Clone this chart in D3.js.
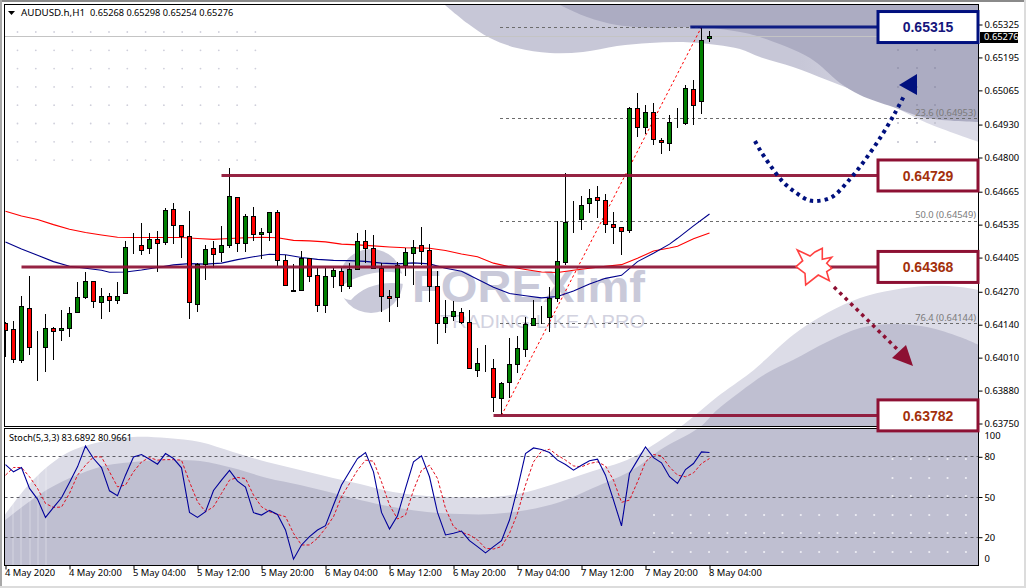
<!DOCTYPE html>
<html><head><meta charset="utf-8">
<script src="https://cdn.jsdelivr.net/npm/d3@7/dist/d3.min.js"></script>
<style>
html,body{margin:0;padding:0;background:#fff;overflow:hidden}
svg{display:block}
text{font-family:"Noto Sans",sans-serif}
</style></head><body>
<div id="chart"></div>
<script>
const opens=[0.64143,0.64122,0.64000,0.64205,0.64054,0.64051,0.64126,0.64118,0.64126,0.64189,
0.64248,0.64312,0.64229,0.64251,0.64237,0.64264,0.64446,0.64454,0.64441,0.64477,
0.64466,0.64596,0.64533,0.64489,0.64221,0.64379,0.64442,0.64426,0.64454,0.64643,
0.64462,0.64568,0.64497,0.64505,0.64584,0.64394,0.64276,0.64276,0.64402,0.64335,
0.64217,0.64331,0.64351,0.64292,0.64359,0.64469,0.64442,0.64363,0.64252,0.64248,
0.64375,0.64422,0.64454,0.64434,0.64292,0.64146,0.64173,0.64189,0.64150,0.63960,
0.63962,0.63968,0.63850,0.63913,0.63984,0.64043,0.64138,0.64175,0.64169,0.64244,
0.64387,0.64551,0.64556,0.64619,0.64643,0.64631,0.64537,0.64525,0.64513,0.64992,
0.64919,0.64979,0.64868,0.64856,0.64936,0.64935,0.65069,0.65022,0.65268];
const closes=[0.64118,0.64004,0.64213,0.64051,0.64054,0.64126,0.64114,0.64126,0.64185,0.64248,
0.64312,0.64233,0.64251,0.64237,0.64252,0.64446,0.64446,0.64434,0.64477,0.64462,
0.64592,0.64531,0.64488,0.64229,0.64376,0.64438,0.64418,0.64454,0.64647,0.64462,
0.64568,0.64497,0.64505,0.64584,0.64394,0.64296,0.64271,0.64402,0.64331,0.64217,
0.64331,0.64355,0.64296,0.64359,0.64469,0.64442,0.64363,0.64252,0.64244,0.64375,
0.64426,0.64446,0.64430,0.64292,0.64146,0.64169,0.64193,0.64150,0.63968,0.63988,
0.63962,0.63854,0.63909,0.63984,0.64047,0.64142,0.64166,0.64175,0.64244,0.64391,
0.64544,0.64551,0.64612,0.64639,0.64631,0.64537,0.64525,0.64509,0.64992,0.64919,
0.64979,0.64872,0.64860,0.64939,0.64936,0.65073,0.65006,0.65263,0.65276];
const highs=[0.64152,0.64154,0.64254,0.64333,0.64114,0.64183,0.64130,0.64197,0.64209,0.64309,
0.64348,0.64312,0.64284,0.64264,0.64309,0.64469,0.64501,0.64541,0.64501,0.64510,
0.64601,0.64621,0.64533,0.64589,0.64383,0.64454,0.64471,0.64530,0.64758,0.64643,
0.64576,0.64604,0.64521,0.64584,0.64592,0.64414,0.64379,0.64430,0.64402,0.64363,
0.64363,0.64363,0.64363,0.64383,0.64501,0.64514,0.64493,0.64383,0.64276,0.64387,
0.64442,0.64473,0.64525,0.64458,0.64351,0.64237,0.64233,0.64205,0.64197,0.64047,
0.64059,0.64004,0.63913,0.64087,0.64094,0.64169,0.64237,0.64213,0.64288,0.64551,
0.64738,0.64629,0.64647,0.64675,0.64687,0.64655,0.64584,0.64525,0.65001,0.65055,
0.65007,0.65015,0.64877,0.64968,0.64996,0.65086,0.65106,0.65310,0.65298];
const lows=[0.64012,0.63988,0.63988,0.64022,0.63916,0.63955,0.64001,0.64077,0.64093,0.64189,
0.64242,0.64204,0.64164,0.64192,0.64223,0.64264,0.64421,0.64417,0.64421,0.64350,
0.64456,0.64460,0.64405,0.64164,0.64192,0.64318,0.64362,0.64387,0.64444,0.64425,
0.64425,0.64472,0.64401,0.64472,0.64371,0.64291,0.64268,0.64276,0.64310,0.64192,
0.64188,0.64283,0.64271,0.64280,0.64355,0.64383,0.64359,0.64192,0.64152,0.64208,
0.64334,0.64298,0.64375,0.64231,0.64062,0.64109,0.64156,0.64142,0.63968,0.63935,
0.63952,0.63797,0.63784,0.63850,0.63951,0.64014,0.64138,0.64142,0.64113,0.64229,
0.64376,0.64501,0.64512,0.64580,0.64560,0.64501,0.64460,0.64414,0.64501,0.64879,
0.64892,0.64850,0.64814,0.64826,0.64917,0.64929,0.64929,0.64972,0.65254];

const blueMaBars=[0,2,4,6,8,10,12,13,15,17,19,21,23,25,27,29,31,33,35,37,39,41,43,45,47,49,51,53,55,57,59,61,63,65,67,69,71,73,75,77,79,81,83,84,86,88];
const blueMaValues=[0.64466,0.64439,0.64414,0.64389,0.64371,0.64363,0.64355,0.64347,0.64348,0.64356,0.64366,0.64376,0.64381,0.64379,0.64383,0.64397,0.64408,0.64418,0.64416,0.64405,0.64398,0.64394,0.64393,0.64390,0.64383,0.64380,0.64384,0.64380,0.64363,0.64351,0.64319,0.64288,0.64263,0.64254,0.64246,0.64251,0.64273,0.64301,0.64323,0.64335,0.64389,0.64422,0.64458,0.64481,0.64530,0.64577];
const redMaBars=[0,2,4,6,8,10,12,14,16,18,20,22,24,26,28,30,32,34,36,38,40,42,44,46,48,50,52,53,55,57,59,61,63,65,67,69,71,73,75,77,79,81,83,84,86,88];
const redMaValues=[0.64588,0.64569,0.64555,0.64535,0.64517,0.64504,0.64494,0.64485,0.64484,0.64484,0.64484,0.64484,0.64480,0.64477,0.64480,0.64483,0.64485,0.64483,0.64473,0.64471,0.64467,0.64458,0.64455,0.64451,0.64447,0.64444,0.64443,0.64442,0.64433,0.64419,0.64408,0.64383,0.64369,0.64358,0.64348,0.64346,0.64355,0.64363,0.64371,0.64377,0.64402,0.64431,0.64443,0.64450,0.64479,0.64502];

const stochMain=[74.2,68.8,72.0,56.4,48.4,34.8,42.2,49.4,60.8,72.5,88.1,78.7,72.0,54.6,50.9,66.3,79.9,81.7,78.2,74.5,82.4,78.7,71.8,38.5,34.8,39.0,54.9,62.6,69.8,61.8,57.4,38.3,36.5,40.0,37.0,25.4,3.6,14.2,20.4,25.4,28.6,44.0,58.9,68.8,78.7,
83.2,68.8,38.5,26.1,36.0,56.4,76.2,80.7,65.1,38.5,21.7,22.9,24.6,17.4,13.0,8.3,13.0,17.4,32.8,56.4,82.4,86.6,85.4,83.2,77.5,74.2,70.0,73.7,77.0,78.2,66.3,47.7,28.4,67.5,77.5,87.4,79.4,75.5,65.1,60.1,70.5,75.0,83.7,83.2];
const stochSignal=[66.3,72.0,72.0,65.1,56.4,45.2,42.2,42.5,52.7,66.3,73.7,79.9,79.9,68.8,57.6,58.9,68.8,76.2,79.4,77.5,77.9,77.9,77.5,61.3,46.5,39.0,42.7,52.7,62.6,64.6,63.8,51.4,42.7,39.0,37.0,35.3,22.9,14.2,14.2,19.2,26.6,35.3,50.2,60.1,70.0,
77.5,76.7,61.3,44.0,33.6,36.5,55.1,70.0,73.7,63.8,41.5,27.9,23.6,21.7,18.0,11.7,11.2,13.0,22.9,37.8,58.9,76.2,84.2,85.6,81.2,77.5,73.2,72.5,75.0,76.2,73.2,62.6,46.0,47.7,61.3,76.2,81.7,80.7,72.5,66.3,65.1,68.0,75.0,78.7];

const priceTicks=[0.65325,0.65195,0.65065,0.64930,0.64800,0.64665,0.64535,0.64405,0.64270,0.64140,0.64010,0.63880,0.63750];
const stochTicks=[80,50,20];
const timeTickBars=[0,8,16,24,32,40,48,56,64,72,80,88];
const timeTickLabels=["4 May 2020","4 May 20:00","5 May 04:00","5 May 12:00","5 May 20:00","6 May 04:00","6 May 12:00","6 May 20:00","7 May 04:00","7 May 12:00","7 May 20:00","8 May 04:00"];
const fiboLevels=[0.65315,0.64953,0.64549,0.64144];
const fiboLabels=["","23.6 (0.64953)","50.0 (0.64549)","76.4 (0.64144)"];
const keyLevels=[0.65315,0.64729,0.64368,0.63782];
const keyStartBars=[85.6,27,2,61];
const keyLabels=["0.65315","0.64729","0.64368","0.63782"];
const keyColors=["#00107e","#8d1033","#8d1033","#8d1033"];
const keyTextColors=["#15157c","#a3300c","#a3300c","#a3300c"];
const bidPrice=0.65276;
const trendBars=[62,87], trendPrices=[0.63782,0.65315];

const W=1026,H=588,L=4.5,R=978.5,T=4.5,MB=426.5,ST=428.5,SB=565.5;
const svg=d3.select("#chart").append("svg").attr("width",W).attr("height",H);
const x=d3.scaleLinear().domain([0,88]).range([5.5,709.5]);
const y=d3.scaleLinear().domain([0.6375,0.65325]).range([423.5,24.5]);
const yS=d3.scaleLinear().domain([0,100]).range([564,430]);
const crisp=v=>Math.round(v-0.5)+0.5;

const defs=svg.append("defs");
defs.append("clipPath").attr("id","cm").append("rect").attr("x",L).attr("y",T).attr("width",R-L).attr("height",MB-T);
defs.append("clipPath").attr("id","cs").append("rect").attr("x",L).attr("y",ST).attr("width",R-L).attr("height",SB-ST);
const grad=defs.append("linearGradient").attr("id","tl").attr("gradientUnits","userSpaceOnUse")
  .attr("x1",800).attr("x2",920).attr("y1",0).attr("y2",0);
grad.append("stop").attr("offset",0).attr("stop-color","#c7c7d7");
grad.append("stop").attr("offset",1).attr("stop-color","#dadae6");

// window chrome
svg.append("rect").attr("x",0).attr("y",0).attr("width",W).attr("height",2).attr("fill","#8a8a8a");
svg.append("rect").attr("x",0).attr("y",0).attr("width",2).attr("height",H).attr("fill","#a8a8a8");
svg.append("rect").attr("x",0).attr("y",586).attr("width",W).attr("height",2).attr("fill","#dcdcdc");
svg.append("rect").attr("x",1024).attr("y",0).attr("width",2).attr("height",H).attr("fill","#dcdcdc");

// background artwork
const art=d3.line().curve(d3.curveCatmullRom.alpha(0.5));
const topLight=[[445,5],[467,23],[490,38],[517,48],[550,53],[583,52],[617,46],[650,43],[683,42],[717,45],[740,49],[760,57],[793,67],[827,80],[860,93],[890,105],[927,123],[979,142]];
const topDark=[[560,5],[587,17],[617,25],[660,28],[700,27],[740,32],[760,37],[810,58],[840,83],[860,95],[893,107],[927,118],[979,122]];
const botLight=[[4,516],[33,480],[67,453],[100,442],[133,437],[167,438],[200,442],[233,452],[267,462],[300,470],[333,478],[360,484],[393,492],[427,496],[460,497],[493,497],[527,492],[560,482],[593,471],[627,460],[650,447],[680,427],[693,417],[717,397],[750,373],[765,360],[793,335],[827,313],[860,298],[893,290],[927,286],[960,287],[979,290]];
const botDark=[[4,521],[50,488],[100,467],[133,462],[167,460],[200,461],[233,468],[267,478],[300,485],[333,493],[360,500],[393,507],[427,512],[460,514],[493,514],[527,510],[560,502],[593,488],[627,473],[643,463],[660,450],[700,427],[717,410],[740,392],[767,373],[793,360],[827,342],[860,328],[893,324],[927,327],[960,337],[979,345]];
function artLayer(parent){
  const closeTop=p=>art(p)+"L979,4L445,4Z";
  const closeBot=p=>art(p)+"L979,566L4,566Z";
  parent.append("path").attr("d",closeTop(topLight)).attr("fill","url(#tl)");
  parent.append("path").attr("d",closeTop(topDark)).attr("fill","#acacc2");
  parent.append("path").attr("d",closeBot(botLight)).attr("fill","#dcdce7");
  parent.append("path").attr("d",closeBot(botDark)).attr("fill","#bfbfd1");
}
const gm=svg.append("g").attr("clip-path","url(#cm)");
const gs=svg.append("g").attr("clip-path","url(#cs)");
artLayer(gm); artLayer(gs);

// dot patterns
const dotsTL=d3.cross(d3.range(14),d3.range(8));
gm.append("g").selectAll("circle").data(dotsTL).join("circle")
  .attr("cx",d=>17.5+d[0]*18.3).attr("cy",d=>32+d[1]*18.3).attr("r",0.9).attr("fill","#cfcfdb");
const dotsTR=d3.cross([898,917,935],[50,68,87,105,123,142]);
gm.append("g").selectAll("circle").data(dotsTR).join("circle")
  .attr("cx",d=>d[0]).attr("cy",d=>d[1]).attr("r",1).attr("fill",d=>d[1]<110?"#9494ac":"#c0c0ce");
const dotsBR=d3.cross(d3.range(18),[515,533,552]).map(d=>[654+d[0]*18.35,d[1]])
  .concat(d3.cross(d3.range(5),[459,478,496]).map(d=>[892.5+d[0]*18.35,d[1]]));
gs.append("g").selectAll("circle").data(dotsBR).join("circle")
  .attr("cx",d=>d[0]).attr("cy",d=>d[1]).attr("r",1.1).attr("fill","#eeeef4");
gs.append("g").selectAll("line").data([13,21,30,38,46]).join("line")
  .attr("x1",d=>d).attr("x2",d=>d).attr("y1",457).attr("y2",565).attr("stroke","#fff").attr("stroke-opacity",0.35);

// watermark
const wm=gm.append("g");
wm.append("circle").attr("cx",371).attr("cy",281).attr("r",32).attr("fill","#c9c9d9");
wm.append("path").attr("d","M336,290C352,276 380,268 404,274L404,284C382,280 362,287 351,300C345,300 340,296 336,290Z").attr("fill","#fff");
wm.append("text").attr("x",412).attr("y",302).attr("font-size",44).attr("font-weight",700)
  .attr("textLength",233).attr("lengthAdjust","spacingAndGlyphs")
  .style("font-family","'Liberation Sans',sans-serif").attr("fill","#c9c9d9").text("FOREXimf");
wm.append("text").attr("x",440).attr("y",327.5).attr("font-size",17.8)
  .attr("textLength",205).attr("lengthAdjust","spacingAndGlyphs")
  .style("font-family","'Liberation Sans',sans-serif").attr("fill","#d2d2df").text("TRADING LIKE A PRO");

// bid line
gm.append("line").attr("x1",L).attr("x2",R).attr("y1",crisp(y(bidPrice))).attr("y2",crisp(y(bidPrice))).attr("stroke","#c4c4c4");

// fibonacci
gm.append("g").selectAll("line").data(fiboLevels).join("line")
  .attr("x1",500).attr("x2",(d,i)=>i?R:700).attr("y1",d=>crisp(y(d))).attr("y2",d=>crisp(y(d)))
  .attr("stroke","#6c6c6c").attr("stroke-dasharray","3 3");
gm.append("g").selectAll("text").data(fiboLevels).join("text")
  .attr("x",976).attr("y",d=>y(d)-3).attr("text-anchor","end").attr("font-size",9.3)
  .attr("fill","#7a7a7a").text((d,i)=>fiboLabels[i]);
gm.append("line").attr("x1",x(trendBars[0])).attr("x2",x(trendBars[1]))
  .attr("y1",y(trendPrices[0])).attr("y2",y(trendPrices[1]))
  .attr("stroke","#f00").attr("stroke-width",1).attr("stroke-dasharray","2.5 2.5");

// moving averages
const maLine=d3.line().x(d=>x(d[0])).y(d=>y(d[1]));
gm.append("path").attr("d",maLine(d3.zip(redMaBars,redMaValues))).attr("fill","none").attr("stroke","#f00").attr("stroke-width",1.1);
gm.append("path").attr("d",maLine(d3.zip(blueMaBars,blueMaValues))).attr("fill","none").attr("stroke","#00008b").attr("stroke-width",1.1);

// candles
const candles=opens.map((o,i)=>({i,o,c:closes[i],h:highs[i],l:lows[i]}));
const cg=gm.append("g");
cg.selectAll("line").data(candles).join("line")
  .attr("x1",d=>x(d.i)).attr("x2",d=>x(d.i)).attr("y1",d=>Math.round(y(d.h))).attr("y2",d=>Math.round(y(d.l)))
  .attr("stroke","#000");
cg.selectAll("rect").data(candles).join("rect")
  .attr("x",d=>x(d.i)-2).attr("width",4)
  .attr("y",d=>crisp(y(Math.max(d.o,d.c))))
  .attr("height",d=>crisp(y(Math.min(d.o,d.c)))-crisp(y(Math.max(d.o,d.c))))
  .attr("fill",d=>d.c>d.o?"#007f00":d.c<d.o?"#f00":"#000").attr("stroke","#000");

// stochastic
const sLine=d3.line().x((d,i)=>x(i)).y(d=>yS(d));
gs.append("g").selectAll("line").data(stochTicks).join("line")
  .attr("x1",L).attr("x2",R).attr("y1",d=>crisp(yS(d))).attr("y2",d=>crisp(yS(d)))
  .attr("stroke","#5e5e66").attr("stroke-dasharray","3 3");
gs.append("path").attr("d",sLine(stochSignal)).attr("fill","none").attr("stroke","#e01020").attr("stroke-dasharray","3 2");
gs.append("path").attr("d",sLine(stochMain)).attr("fill","none").attr("stroke","#00009a").attr("stroke-width",1.1);

// frames
svg.append("rect").attr("x",L).attr("y",T).attr("width",R-L).attr("height",MB-T).attr("fill","none").attr("stroke","#000");
svg.append("rect").attr("x",L).attr("y",ST).attr("width",R-L).attr("height",SB-ST).attr("fill","none").attr("stroke","#000");

// axes
const axY=d3.axisRight(y).tickValues(priceTicks).tickFormat(d3.format(".5f")).tickSize(4).tickPadding(2);
const gy=svg.append("g").attr("transform",`translate(${R},0)`).call(axY);
gy.select(".domain").remove();
const axS=d3.axisRight(yS).tickValues([100,80,50,20,0]).tickFormat(d=>d).tickSize(4).tickPadding(2);
const gys=svg.append("g").attr("transform",`translate(${R},0)`).call(axS);
gys.select(".domain").remove();
gys.selectAll(".tick").filter(d=>d===100||d===0).select("line").remove();
gys.selectAll(".tick").filter(d=>d===100).select("text").attr("dy","0.32em").attr("transform","translate(0,5)");
gys.selectAll(".tick").filter(d=>d===0).select("text").attr("transform","translate(0,-6)");
const axX=d3.axisBottom(x).tickValues(timeTickBars).tickFormat((d,i)=>timeTickLabels[i]).tickSize(4).tickPadding(1);
const gx=svg.append("g").attr("transform",`translate(0,${SB})`).call(axX);
gx.select(".domain").remove();
gx.selectAll("text").attr("text-anchor","start").attr("dx",-1).attr("dy","0.6em");
svg.selectAll(".tick text").attr("font-size",9.4).style("font-family","'Noto Sans',sans-serif").attr("fill","#000");
svg.selectAll(".tick line").attr("stroke","#000");

// current price flag
svg.append("rect").attr("x",980).attr("y",32).attr("width",38).attr("height",11).attr("fill","#000");
svg.append("text").attr("x",984).attr("y",y(bidPrice)+3.5).attr("font-size",9.4).attr("fill","#fff").text("0.65276");

// titles
svg.append("path").attr("d","M8,11L15,11L11.5,15Z").attr("fill","#000");
svg.append("text").attr("x",21).attr("y",16).attr("font-size",9.8).attr("fill","#000").text("AUDUSD.h,H1");
svg.append("text").attr("x",90).attr("y",16).attr("font-size",9.2).attr("fill","#000").text("0.65268 0.65298 0.65254 0.65276");
svg.append("text").attr("x",9).attr("y",441).attr("font-size",9.2).attr("fill","#000").text("Stoch(5,3,3) 83.6892 80.9661");

// key levels with boxes
const kg=svg.append("g");
kg.selectAll("line").data(keyLevels).join("line")
  .attr("x1",(d,i)=>x(keyStartBars[i])).attr("x2",877).attr("y1",d=>y(d)).attr("y2",d=>y(d))
  .attr("stroke",(d,i)=>keyColors[i]).attr("stroke-width",3).attr("stroke-opacity",0.92);
kg.selectAll("rect").data(keyLevels).join("rect")
  .attr("x",878).attr("width",100).attr("y",d=>y(d)-15.5).attr("height",31)
  .attr("fill","#fff").attr("stroke",(d,i)=>keyColors[i]).attr("stroke-width",3);
kg.selectAll("text").data(keyLevels).join("text")
  .attr("x",928).attr("y",d=>y(d)+5.2).attr("text-anchor","middle").attr("font-size",14).attr("font-weight",700)
  .style("font-family","'Liberation Sans',sans-serif").attr("fill",(d,i)=>keyTextColors[i]).text((d,i)=>keyLabels[i]);

// annotations
const smooth=d3.line().curve(d3.curveCatmullRom.alpha(0.5));
svg.append("path").attr("d",smooth([[755,141],[760,150],[770,165],[783,182],[795,192],[808,200],[817,201],[832,197],[850,179],[865,160],[882,135],[895,113],[904,96]]))
  .attr("fill","none").attr("stroke","#00107e").attr("stroke-width",4).attr("stroke-dasharray","3.5 4");
svg.append("path").attr("d","M917,74L899,85L917,95Z").attr("fill","#00107e");
svg.append("path").attr("d",d3.line()([[834,287],[897,349]]))
  .attr("fill","none").attr("stroke","#8d1033").attr("stroke-width",3.5).attr("stroke-dasharray","3.5 4.2");
svg.append("path").attr("d","M913,366L892,358L906,345Z").attr("fill","#8d1033");
svg.append("path").attr("d",d3.line().curve(d3.curveLinearClosed)([[797.3,250],[810,256],[815,252],[822.3,248.3],[822.3,259.3],[831.7,257.3],[826.7,263.3],[831.7,268.3],[826.7,271.7],[829.3,280.7],[818.3,275],[805.7,285],[805,273.3],[796,266.7],[802.7,260.7]]))
  .attr("fill","#fff").attr("stroke","#ff4040").attr("stroke-width",1.6);
</script></body></html>
